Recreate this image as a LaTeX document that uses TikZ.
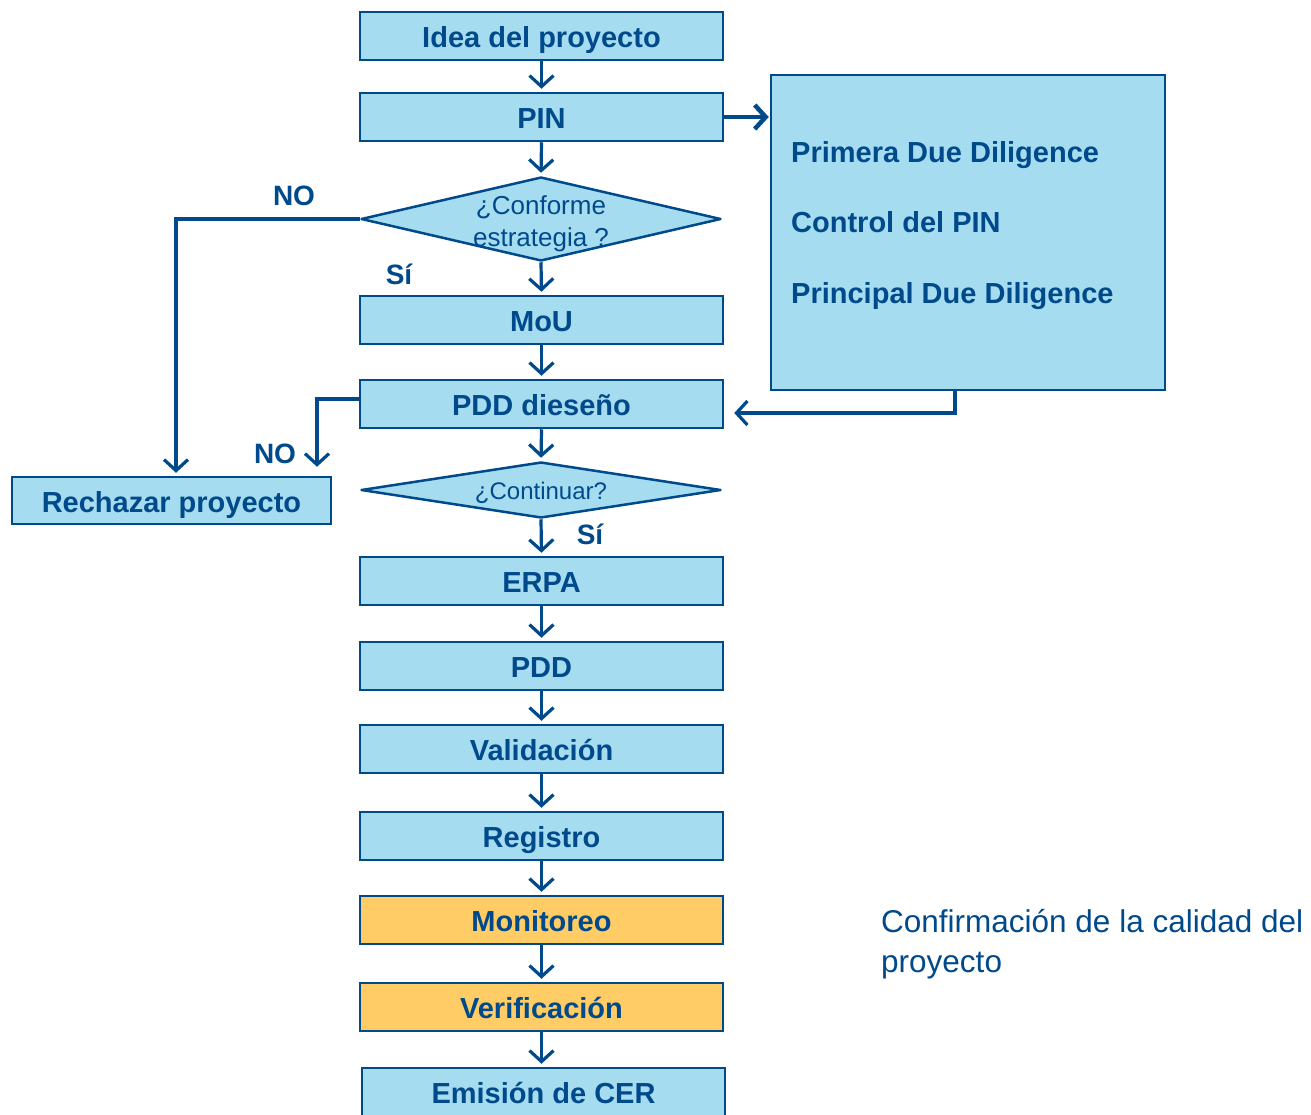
\documentclass[tikz,border=0pt]{standalone}
\usepackage{fontspec}
\setmainfont{Liberation Sans}
\usetikzlibrary{arrows.meta,shapes.geometric}
\definecolor{boxfill}{RGB}{166,220,240}
\definecolor{navy}{RGB}{0,74,140}
\definecolor{amber}{RGB}{255,204,102}
\tikzset{
  stepbox/.style={draw=navy, line width=2.5pt, fill=boxfill, rectangle,
    minimum width=363pt, minimum height=48pt, inner sep=0pt,
    text height=25pt, text depth=2pt,
    text=navy, font=\fontsize{29}{32}\selectfont\bfseries},
  hotbox/.style={stepbox, fill=amber},
  choice/.style={draw=navy, line width=2.5pt, fill=boxfill, diamond,
    line join=round, minimum width=360pt, inner sep=0pt},
  choicetext/.style={text=navy, align=center, inner sep=0pt},
  tag/.style={text=navy, font=\fontsize{28}{30}\selectfont\bfseries, inner sep=0pt},
  arr/.style={draw=navy, line width=3.2pt,
    -{Straight Barb[length=11pt,width=24pt]}, shorten >=3pt},
}
\begin{document}
\begin{tikzpicture}[x=1pt,y=-1pt]
\clip (0,0) rectangle (1311,1114);
\fill[white] (0,0) rectangle (1311,1114);

% main column
\node[stepbox] (idea) at (541.5,36) {Idea del proyecto};
\node[stepbox] (pin)  at (541.5,117) {PIN};
\node[choice, minimum height=84pt] (d1) at (541,219) {};
\node[choicetext, font=\fontsize{26}{32}\selectfont] (d1t) at (541,224) {¿Conforme\\estrategia ?};
\node[stepbox] (mou)  at (541.5,320) {MoU};
\node[stepbox] (pdd1) at (541.5,404) {PDD dieseño};
\node[choice, minimum height=56pt] (d2) at (541,490) {};
\node[choicetext, font=\fontsize{24}{28}\selectfont] (d2t) at (541,493) {¿Continuar?};
\node[stepbox] (erpa) at (541.5,581) {ERPA};
\node[stepbox] (pdd)  at (541.5,666) {PDD};
\node[stepbox] (val)  at (541.5,749) {Validación};
\node[stepbox] (reg)  at (541.5,836) {Registro};
\node[hotbox]  (mon)  at (541.5,920) {Monitoreo};
\node[hotbox]  (ver)  at (541.5,1007) {Verificación};
\node[stepbox] (cer)  at (543.5,1092) {Emisión de CER};

% rejection box
\node[stepbox, minimum width=319pt, minimum height=47pt] (rech) at (171.5,500.5) {Rechazar proyecto};

% due diligence panel
\node[draw=navy, line width=2.5pt, fill=boxfill, minimum width=394pt,
  minimum height=315pt, inner sep=0pt] (dd) at (968,232.5) {};
\node[anchor=west, align=left, text=navy, inner sep=0pt,
  font=\fontsize{29}{70.5}\selectfont\bfseries] (ddt) at (791,225.5)
  {Primera Due Diligence\\Control del PIN\\Principal Due Diligence};

% side note
\node[anchor=west, align=left, text=navy, inner sep=0pt,
  font=\fontsize{31.5}{40}\selectfont] (note) at (881,944)
  {Confirmación de la calidad del\\proyecto};

% branch labels
\node[tag] (no1) at (294,196) {NO};
\node[tag] (si1) at (399,274) {Sí};
\node[tag] (no2) at (275,454) {NO};
\node[tag] (si2) at (590,534) {Sí};

% flow
\draw[arr] (idea.south) -- (pin.north);
\draw[arr] (pin.south) -- (d1.north);
\draw[arr] (d1.south) -- (mou.north);
\draw[arr] (mou.south) -- (pdd1.north);
\draw[arr] (pdd1.south) -- (d2.north);
\draw[arr] (d2.south) -- (erpa.north);
\draw[arr] (erpa.south) -- (pdd.north);
\draw[arr] (pdd.south) -- (val.north);
\draw[arr] (val.south) -- (reg.north);
\draw[arr] (reg.south) -- (mon.north);
\draw[arr] (mon.south) -- (ver.north);
\draw[arr] (ver.south) -- (ver.south |- cer.north);

\draw[arr, line width=4.5pt, shorten >=1pt] (pin.east) -- (pin.east -| dd.west);
\draw[arr] (d1.west) -| ([xshift=4.5pt]rech.north);
\draw[arr, shorten >=9pt] ([yshift=5pt]pdd1.west) -| ([xshift=145.5pt]rech.north);
\draw[arr, shorten >=10pt] ([xshift=-13pt]dd.south) |- ([yshift=-9pt]pdd1.east);
\end{tikzpicture}
\end{document}
